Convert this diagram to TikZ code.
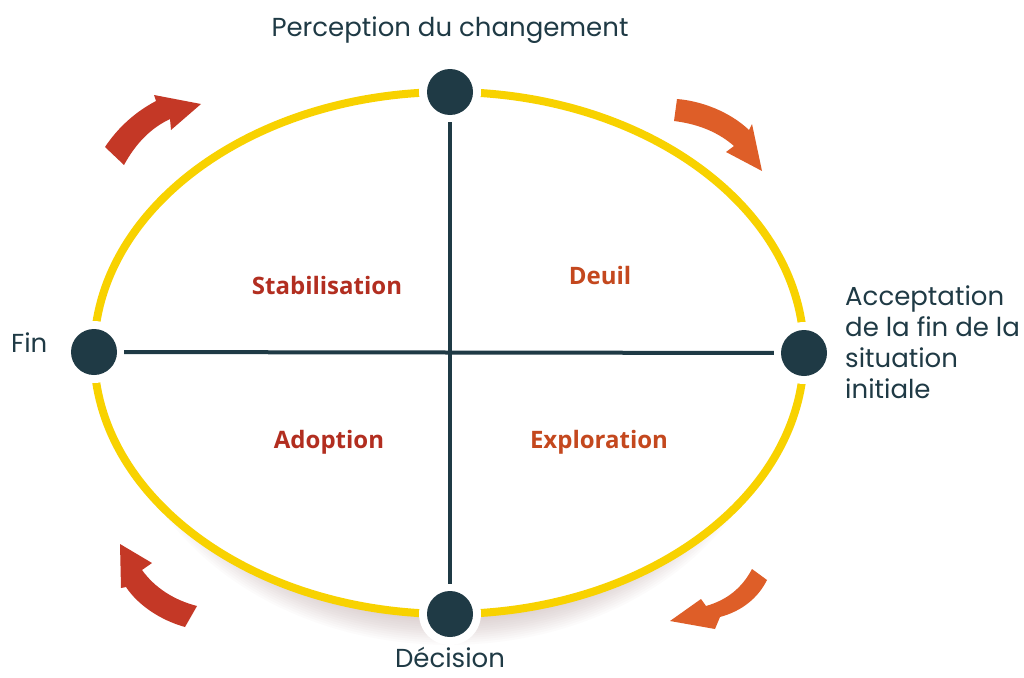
\documentclass[tikz,border=0pt]{standalone}
\usepackage{fontspec}
\setmainfont{Poppins}
\newfontfamily\phasefont{Open Sans}
\definecolor{ringyellow}{RGB}{248,210,0}
\definecolor{hub}{RGB}{31,58,69}
\definecolor{deepred}{RGB}{196,56,38}
\definecolor{burnt}{RGB}{222,94,40}
\definecolor{phasered}{RGB}{178,46,32}
\definecolor{phaseorange}{RGB}{196,72,30}
\definecolor{halo}{RGB}{160,120,120}
\begin{document}
\begin{tikzpicture}[x=1pt,y=-1pt,
  hubdot/.style={circle, fill=hub, minimum size=46pt, inner sep=0pt},
  gap/.style={fill=white},
  axis/.style={draw=hub, line width=4pt, shorten >=7pt, shorten <=7pt},
  outer/.style={text=hub, font=\fontsize{26}{31}\selectfont, inner sep=0pt},
  phase/.style={font=\phasefont\bfseries\fontsize{24}{28}\selectfont, inner sep=0pt},
  turnred/.style={fill=deepred},
  turnorange/.style={fill=burnt}]
\useasboundingbox (0,0) rectangle (1024,677);
\fill[white] (0,0) rectangle (1024,677);

% soft shadow under the lower half of the cycle
\foreach \k in {0,...,14}
  \fill[halo, opacity=0.028] (449,378) ellipse [x radius={300pt+\k*2.2pt}, y radius={236pt+\k*2.2pt}];
\fill[white] (449,353) ellipse [x radius=353pt, y radius=259pt];

% the yellow ring
\draw[ringyellow, line width=8pt] (449,353) ellipse [x radius=355pt, y radius=261pt];

% white breaks in the ring around the four hubs
\fill[gap] (450,92) circle [radius=31pt];
\fill[gap] (450,614) circle [radius=31pt];
\fill[gap] (94,352) circle [radius=31pt];
\fill[gap] (804,353) circle [radius=31pt];

% hubs
\node[hubdot] (top) at (450,92) {};
\node[hubdot] (bottom) at (450,614) {};
\node[hubdot] (left) at (94,352) {};
\node[hubdot] (right) at (804,353) {};

% axes
\draw[axis] (top) -- (bottom);
\draw[axis] (left) -- (right);

% stage labels
\node[outer] (perc) at (450,30) {Perception du changement};
\node[outer, anchor=base, text depth=0pt] (dec) at (450,667) {Décision};
\node[outer, anchor=base west] (fin) at (11,352) {Fin};
\node[outer, anchor=north west, align=left] (acc) at (845,286)
  {Acceptation\\de la fin de la\\situation\\initiale};

% phase labels
\node[phase, text=phasered] (stab) at (327,285) {Stabilisation};
\node[phase, text=phaseorange] (deuil) at (600,275) {Deuil};
\node[phase, text=phasered] (adop) at (329,442) {Adoption};
\node[phase, text=phaseorange] (expl) at (599,442) {Exploration};

% curved arrows showing the clockwise direction
\fill[turnred] (105,147) .. controls (119,126) and (137,111) .. (156,101)
  -- (154,95) -- (201,104) -- (171,130) -- (170,119)
  .. controls (151,128) and (136,143) .. (124,165) -- cycle;
\fill[turnorange] (677,99) .. controls (702,101) and (730,112) .. (749,130)
  -- (752,124) -- (762,171) -- (726,152) -- (734,146)
  .. controls (718,132) and (698,124) .. (674,121) -- cycle;
\fill[turnorange] (767,580) .. controls (758,598) and (742,611) .. (720,617)
  -- (715,629) -- (670,621) -- (701,599) -- (706,606)
  .. controls (727,600) and (742,588) .. (752,569) -- cycle;
\fill[turnred] (185,627) .. controls (160,620) and (138,605) .. (126,587)
  -- (121,588) -- (120,544) -- (152,563) -- (142,570)
  .. controls (155,588) and (174,600) .. (197,606) -- cycle;
\end{tikzpicture}
\end{document}
